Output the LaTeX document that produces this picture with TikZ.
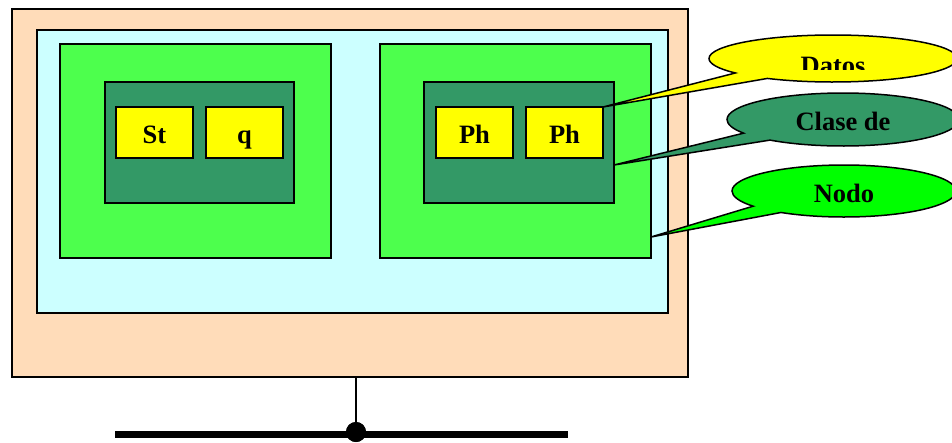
\documentclass[tikz,border=0pt]{standalone}
\usepackage{fontspec}
\setmainfont{Liberation Serif}
\usetikzlibrary{shapes.callouts}
\definecolor{peach}{HTML}{FFDCB9}
\definecolor{lightcyan}{HTML}{CCFFFF}
\definecolor{nodegreen}{HTML}{4DFF4D}
\definecolor{classgreen}{HTML}{339966}
\definecolor{brightgreen}{HTML}{00FF00}
\definecolor{fieldyellow}{HTML}{FFFF00}

\begin{document}
\begin{tikzpicture}[x=1pt, y=-1pt, font=\fontsize{26.5}{30}\selectfont\bfseries,
    box/.style={draw, line width=1.6pt, inner sep=0pt, outer sep=0pt},
    field/.style={box, fill=fieldyellow, minimum width=77, minimum height=51, text height=21pt, text depth=0pt},
    bubble/.style={ellipse callout, draw, line width=1.5pt, inner sep=0pt, callout pointer arc=20, text height=22pt, text depth=0pt}]
        \useasboundingbox (0,0) rectangle (952,442);
        \clip (0,0) rectangle (952,442);

        % 外框
        \node[box, fill=peach, minimum width=676, minimum height=368] (host) at (350,193) {};
        \node[box, fill=lightcyan, minimum width=631, minimum height=283] (proc) at (352.5,171.5) {};

        % 节点
        \node[box, fill=nodegreen, minimum width=271, minimum height=214] (nodeL) at (195.5,151) {};
        \node[box, fill=nodegreen, minimum width=271, minimum height=214] (nodeR) at (515.5,151) {};
        \node[box, fill=classgreen, minimum width=189, minimum height=121] (clsL) at (199.5,142.5) {};
        \node[box, fill=classgreen, minimum width=190, minimum height=121] (clsR) at (519,142.5) {};
        \node[field] (st)  at (154.5,132.5) {St};
        \node[field] (q)   at (244.5,132.5) {q};
        \node[field] (ph1) at (474.5,132.5) {Ph};
        \node[field] (ph2) at (564.5,132.5) {Ph};

        % 标注
        \node[bubble, fill=fieldyellow, minimum width=248, minimum height=47,
            callout absolute pointer={(ph2.north east)}] (datos) at (833,58.5) {};
        \begin{scope}
            \clip (700,30) rectangle (952,69);
            \node[anchor=base] (datosTxt) at (833,74) {Datos};
        \end{scope}
        \node[bubble, fill=classgreen, minimum width=232, minimum height=53,
            callout absolute pointer={(clsR.east |- 0,165)}] (clase) at (843,119.5) {Clase de};
        \node[bubble, fill=brightgreen, minimum width=224, minimum height=52,
            callout absolute pointer={(nodeR.east |- 0,237)}] (nodo) at (844,191) {Nodo};

        % 总线
        \coordinate (busL) at (115,434);
        \coordinate (busR) at (568,434);
        \node[circle, fill, inner sep=0pt, minimum size=20] (tap) at (356,432) {};
        \draw[line width=7] (busL) -- (busR);
        \draw[line width=1.6] (tap |- host.south) -- (tap);
        \node[circle, fill, inner sep=0pt, minimum size=20] at (tap) {};
    \end{tikzpicture}
\end{document}
